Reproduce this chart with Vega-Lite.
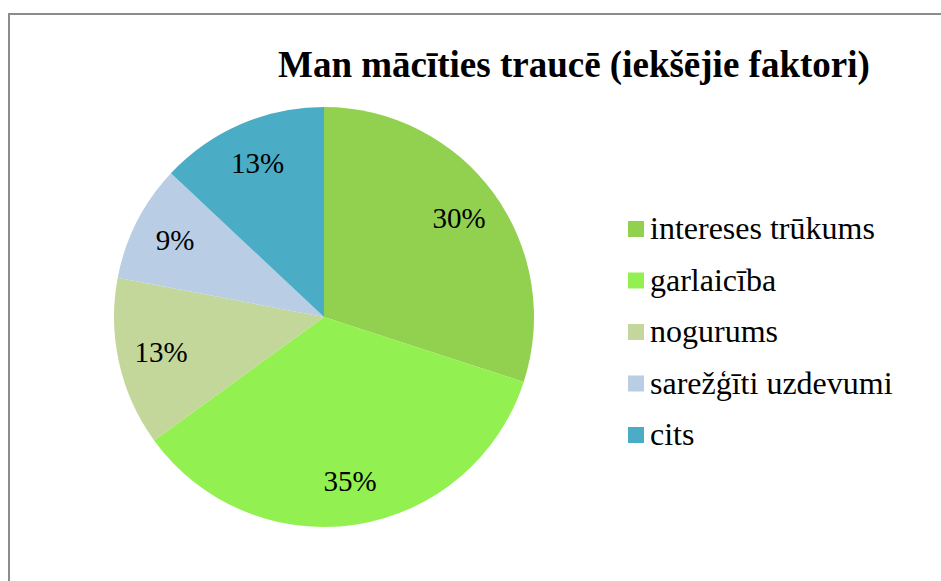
{
  "$schema": "https://vega.github.io/schema/vega-lite/v6.json",
  "autosize": {"type": "none"},
  "padding": {"left": 9, "top": 14, "right": 0, "bottom": 0},
  "width": 940,
  "height": 575,
  "background": "white",
  "view": {"stroke": "#8c8c8c", "strokeWidth": 2},
  "title": {
    "text": "Man mācīties traucē (iekšējie faktori)",
    "orient": "top",
    "anchor": "start",
    "frame": "group",
    "font": "Liberation Serif",
    "fontSize": 37,
    "fontWeight": "bold",
    "color": "#000000",
    "baseline": "alphabetic",
    "offset": -100,
    "dx": 269
  },
  "data": {
    "values": [
      {"category": "intereses trūkums", "value": 0.30, "order": 1},
      {"category": "garlaicība", "value": 0.35, "order": 2},
      {"category": "nogurums", "value": 0.13, "order": 3},
      {"category": "sarežģīti uzdevumi", "value": 0.09, "order": 4},
      {"category": "cits", "value": 0.13, "order": 5}
    ]
  },
  "encoding": {
    "theta": {"field": "value", "type": "quantitative", "stack": true},
    "order": {"field": "order", "type": "quantitative"},
    "color": {
      "field": "category",
      "type": "nominal",
      "sort": ["intereses trūkums", "garlaicība", "nogurums", "sarežģīti uzdevumi", "cits"],
      "scale": {
        "domain": ["intereses trūkums", "garlaicība", "nogurums", "sarežģīti uzdevumi", "cits"],
        "range": ["#92D050", "#92F050", "#C4D79B", "#B9CDE5", "#4BACC6"]
      },
      "legend": {
        "title": null,
        "orient": "none",
        "legendX": 611,
        "legendY": 199,
        "symbolType": "square",
        "symbolSize": 256,
        "symbolStrokeWidth": 0,
        "labelFont": "Liberation Serif",
        "labelFontSize": 32,
        "labelColor": "#000000",
        "labelOffset": -2,
        "rowPadding": 19.5,
        "labelLimit": 400
      }
    }
  },
  "layer": [
    {
      "mark": {"type": "arc", "x": 315, "y": 303, "outerRadius": 210}
    },
    {
      "mark": {"type": "text", "x": 315, "y": 303, "radius": 167, "font": "Liberation Serif", "fontSize": 29, "color": "#000000", "baseline": "middle", "align": "center"},
      "encoding": {
        "text": {"field": "value", "type": "quantitative", "format": ".0%"},
        "color": {"value": "#000000"}
      }
    }
  ]
}
